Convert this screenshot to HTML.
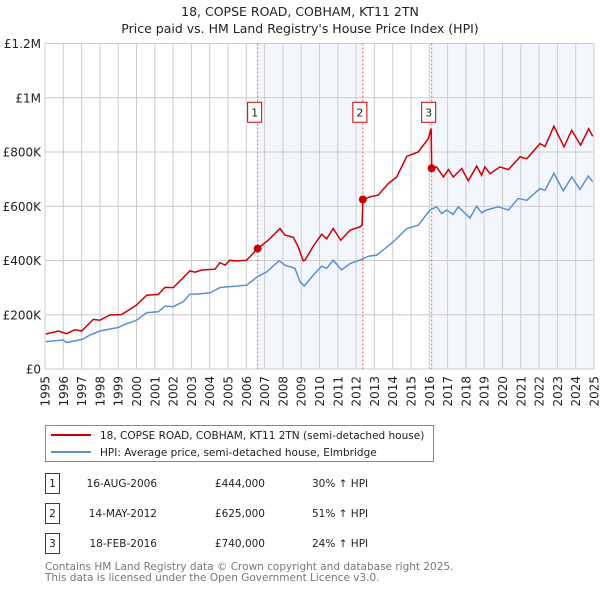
<!DOCTYPE html>
<html><head><meta charset="utf-8"><style>
body{margin:0;background:#fff;font-family:"Liberation Sans","DejaVu Sans",sans-serif;}
svg text{font-family:"DejaVu Sans","Liberation Sans",sans-serif;}
</style></head><body>
<svg id="chart" width="600" height="590" viewBox="0 0 600 590" xmlns="http://www.w3.org/2000/svg">
<text x="300" y="16" text-anchor="middle" font-size="12.5" fill="#222">18, COPSE ROAD, COBHAM, KT11 2TN</text>
<text x="300" y="33" text-anchor="middle" font-size="12.5" fill="#222">Price paid vs. HM Land Registry's House Price Index (HPI)</text>
<g id="plot"></g>
<g>
<rect x="45.5" y="425.5" width="388" height="36" fill="#fff" stroke="#888"/>
<line x1="51" y1="435" x2="91" y2="435" stroke="#cc0000" stroke-width="2"/>
<text x="100" y="439" font-size="10.5" fill="#222">18, COPSE ROAD, COBHAM, KT11 2TN (semi-detached house)</text>
<line x1="51" y1="452" x2="91" y2="452" stroke="#5b8fd6" stroke-width="2"/>
<text x="100" y="456" font-size="10.5" fill="#222">HPI: Average price, semi-detached house, Elmbridge</text>
</g>
<g id="table"></g>
<text x="45" y="570" font-size="10.5" fill="#777">Contains HM Land Registry data © Crown copyright and database right 2025.</text>
<text x="45" y="581" font-size="10.5" fill="#777">This data is licensed under the Open Government Licence v3.0.</text>
</svg>
<script>
const yTicks=[0,200000,400000,600000,800000,1000000,1200000];
const yTickLabels=["£0","£200K","£400K","£600K","£800K","£1M","£1.2M"];
const years=[1995,1996,1997,1998,1999,2000,2001,2002,2003,2004,2005,2006,2007,2008,2009,2010,2011,2012,2013,2014,2015,2016,2017,2018,2019,2020,2021,2022,2023,2024,2025];
const saleDates=[2006.62,2012.37,2016.13];
const salePrices=[444000,625000,740000];
const saleDateLabels=["16-AUG-2006","14-MAY-2012","18-FEB-2016"];
const salePriceLabels=["£444,000","£625,000","£740,000"];
const saleHpiLabels=["30% ↑ HPI","51% ↑ HPI","24% ↑ HPI"];
const redYears=[1995.05,1995.73,1996.18,1996.64,1997.0,1997.64,1998.0,1998.55,1999.19,2000.0,2000.56,2001.19,2001.56,2002.01,2002.92,2003.2,2003.56,2004.29,2004.56,2004.84,2005.1,2005.47,2006.02,2006.62,2007.2,2007.84,2008.11,2008.57,2008.84,2009.11,2009.21,2009.66,2010.12,2010.39,2010.75,2011.16,2011.67,2012.21,2012.33,2012.37,2012.76,2013.21,2013.76,2014.22,2014.77,2015.4,2015.95,2016.1,2016.13,2016.4,2016.77,2017.04,2017.31,2017.77,2018.13,2018.59,2018.86,2019.04,2019.32,2019.86,2020.32,2020.96,2021.32,2022.05,2022.32,2022.81,2023.36,2023.78,2024.27,2024.71,2024.93];
const redValues=[129,140,130,145,140,183,180,199,201,236,272,275,301,300,362,357,365,368,392,383,401,398,401,444,475,518,494,485,450,399,401,453,497,480,518,475,512,524,530,625,635,641,684,708,784,800,850,886,740,745,708,735,708,739,694,748,714,745,720,745,735,782,775,831,820,895,819,880,825,886,858];
const blueYears=[1995.05,1996.0,1996.18,1997.04,1997.46,1998.0,1999.0,1999.28,2000.0,2000.56,2001.19,2001.56,2002.01,2002.56,2002.92,2003.29,2004.02,2004.56,2005.02,2006.02,2006.6,2007.11,2007.8,2008.11,2008.66,2008.93,2009.17,2009.66,2010.12,2010.39,2010.75,2011.21,2011.67,2012.3,2012.67,2013.13,2013.58,2014.13,2014.77,2015.4,2016.04,2016.4,2016.68,2016.95,2017.31,2017.58,2018.22,2018.59,2018.86,2019.13,2019.77,2020.32,2020.86,2021.32,2022.05,2022.32,2022.81,2023.32,2023.78,2024.23,2024.69,2024.93];
const blueValues=[101,107,98,109,125,140,153,162,180,208,211,232,230,248,276,276,281,300,303,309,340,358,399,383,371,322,306,346,379,371,401,365,389,404,416,420,444,475,518,530,586,598,573,586,570,598,557,600,576,586,598,586,629,622,665,659,721,657,708,662,711,690];

const X0=45,X1=594,Y0=369,Y1=43.5;
const xs=y=>X0+(y-1995)/30*(X1-X0);
const ys=v=>Y0-v/1200000*(Y0-Y1);
const NS="http://www.w3.org/2000/svg";
const plot=document.getElementById('plot');
function mk(tag,attrs,parent){const e=document.createElementNS(NS,tag);for(const k in attrs)e.setAttribute(k,attrs[k]);(parent||plot).appendChild(e);return e;}
const sh1=mk('rect',{x:xs(saleDates[0]),y:Y1,width:xs(saleDates[1])-xs(saleDates[0]),height:Y0-Y1,fill:'#eef3fc',opacity:0.7});


const sh2=mk('rect',{x:xs(saleDates[2]),y:Y1,width:X1-xs(saleDates[2]),height:Y0-Y1,fill:'#eef3fc',opacity:0.7});


years.forEach(yr=>{const l=mk('line',{x1:xs(yr),x2:xs(yr),y1:Y1,y2:Y0,stroke:'#cccccc','stroke-width':1});


const t=mk('text',{x:0,y:0,transform:`translate(${xs(yr)+4.5},${376}) rotate(-90)`,'text-anchor':'end','font-size':12,fill:'#222'});


t.textContent=String(yr);});
yTicks.forEach((v,i)=>{const l=mk('line',{x1:X0,x2:X1,y1:ys(v),y2:ys(v),stroke:'#cccccc','stroke-width':1});


const t=mk('text',{x:X0-4,y:ys(v)+4.5,'text-anchor':'end','font-size':12,fill:'#222'});


t.textContent=yTickLabels[i];});
const fr=mk('rect',{x:X0,y:Y1,width:X1-X0,height:Y0-Y1,fill:'none',stroke:'#cccccc'});


saleDates.forEach((d,i)=>{const l=mk('line',{x1:xs(d),x2:xs(d),y1:Y1,y2:Y0,stroke:'#e06060','stroke-width':1,'stroke-dasharray':'2,2'});


const b=mk('rect',{x:xs(d)-10,y:ys(1000000)+4.5,width:14,height:20,fill:'#fff',stroke:'#cc0000'});


const t=mk('text',{x:xs(d)-3,y:ys(1000000)+18.5,'text-anchor':'middle','font-size':11,fill:'#222'});


t.textContent=String(i+1);});
const bp=mk('path',{d:blueYears.map((y,i)=>(i?'L':'M')+xs(y).toFixed(1)+','+ys(blueValues[i]*1000).toFixed(1)).join(''),fill:'none',stroke:'#5b8fd6','stroke-width':1.5});


const rp=mk('path',{d:redYears.map((y,i)=>(i?'L':'M')+xs(y).toFixed(1)+','+ys(redValues[i]*1000).toFixed(1)).join(''),fill:'none',stroke:'#cc0000','stroke-width':1.5});


saleDates.forEach((d,i)=>{const c=mk('circle',{cx:xs(d),cy:ys(salePrices[i]),r:4,fill:'#cc0000'});

});
const tb=document.getElementById('table');
saleDates.forEach((d,i)=>{const yy=473+i*30;
const b=mk('rect',{x:45.5,y:yy+0.5,width:14,height:20,fill:'#fff',stroke:'#cc0000'},tb);


const cols=[[52.5,'middle',String(i+1)],[157,'end',saleDateLabels[i]],[265,'end',salePriceLabels[i]],[312,'start',saleHpiLabels[i]]];
cols.forEach(c=>{const t=mk('text',{x:c[0],y:yy+14,'text-anchor':c[1],'font-size':10.5,fill:'#222'},tb);


t.textContent=c[2];});});
</script>
</body></html>
